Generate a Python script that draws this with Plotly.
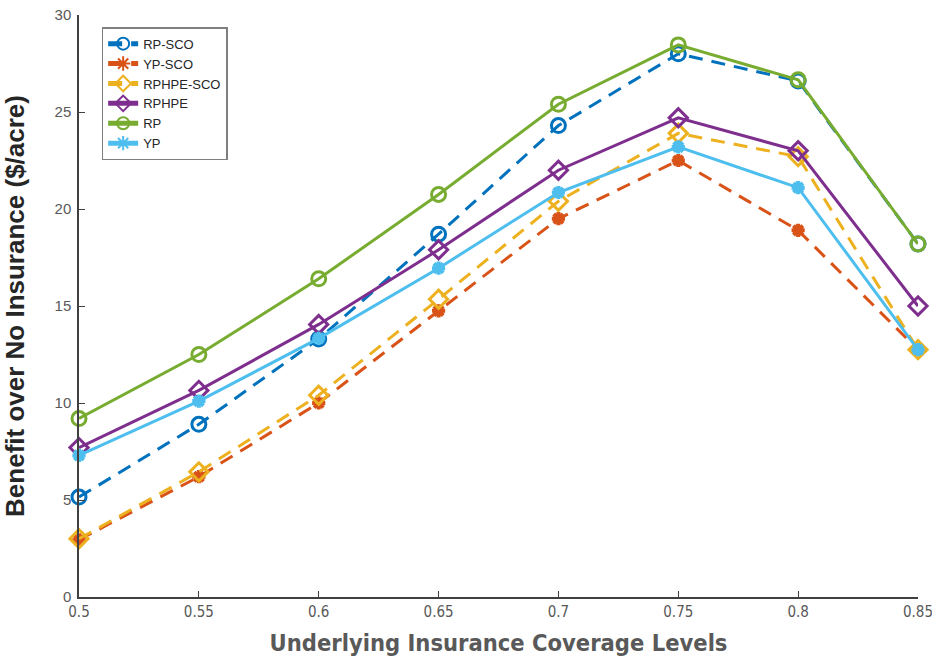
import plotly.graph_objects as go

x_levels = [0.5, 0.55, 0.6, 0.65, 0.7, 0.75, 0.8, 0.85]

rp_sco = [5.15, 8.9, 13.3, 18.7, 24.3, 28.0, 26.6, 18.2]
yp_sco = [2.95, 6.2, 10.0, 14.75, 19.5, 22.5, 18.9, 12.75]
rphpe_sco = [3.0, 6.45, 10.4, 15.35, 20.4, 23.9, 22.7, 12.75]
rphpe = [7.7, 10.65, 14.05, 17.9, 22.0, 24.7, 23.0, 15.0]
rp = [9.2, 12.5, 16.4, 20.75, 25.4, 28.46, 26.66, 18.2]
yp = [7.3, 10.1, 13.33, 16.95, 20.85, 23.2, 21.1, 12.75]

series = [
    ("RP-SCO", rp_sco, "#0072BD", "dash", "circle-open"),
    ("YP-SCO", yp_sco, "#D95319", "dash", "asterisk-open"),
    ("RPHPE-SCO", rphpe_sco, "#EDB120", "dash", "diamond-open"),
    ("RPHPE", rphpe, "#7E2F8E", "solid", "diamond-open"),
    ("RP", rp, "#77AC30", "solid", "circle-open"),
    ("YP", yp, "#4DBEEE", "solid", "asterisk-open"),
]

fig = go.Figure()
for name, vals, color, dash, sym in series:
    is_ast = "asterisk" in sym
    fig.add_trace(go.Scatter(
        x=x_levels, y=vals, name=name, mode="lines+markers",
        line=dict(color=color, width=3, dash="14px,9px" if dash == "dash" else "solid"),
        marker=dict(symbol=sym, size=11 if is_ast else 14,
                    color=color, line=dict(color=color, width=4 if is_ast else 3)),
        cliponaxis=False,
    ))

axis_color = "#404040"
narrow = "DejaVu Sans Condensed, Liberation Sans Narrow, Arial Narrow, Liberation Sans, sans-serif"
fig.update_layout(
    width=932, height=657,
    margin=dict(l=79, r=14, t=15, b=60),
    paper_bgcolor="white", plot_bgcolor="white",
    showlegend=True,
    legend=dict(
        x=0.027, y=0.979, xanchor="left", yanchor="top",
        bgcolor="white", bordercolor="#7f7f7f", borderwidth=1.5,
        font=dict(family="Liberation Sans, Arial, sans-serif", size=13, color="#262626"),
        tracegroupgap=0, itemsizing="constant", itemwidth=30,
    ),
    xaxis=dict(
        range=[0.5, 0.85], tickvals=x_levels,
        ticktext=["0.5", "0.55", "0.6", "0.65", "0.7", "0.75", "0.8", "0.85"],
        ticks="inside", ticklen=6, tickcolor=axis_color, tickwidth=1.2,
        showline=True, linecolor=axis_color, linewidth=1.5,
        showgrid=False, zeroline=False, automargin=False,
        ticklabeloverflow="allow",
        tickfont=dict(family=narrow, size=15, color="#595959"),
        title=dict(text="<b>Underlying Insurance Coverage Levels</b>",
                   font=dict(family=narrow, size=23.5, color="#595959"),
                   standoff=15),
    ),
    yaxis=dict(
        range=[0, 30], tickvals=[0, 5, 10, 15, 20, 25, 30],
        ticks="inside", ticklen=6, tickcolor=axis_color, tickwidth=1.2,
        showline=True, linecolor=axis_color, linewidth=1.5,
        showgrid=False, zeroline=False, automargin=False,
        ticklabeloverflow="allow", ticklabelstandoff=3,
        tickfont=dict(family="Liberation Sans, Arial, sans-serif", size=15, color="#595959"),
        title=dict(text="<b>Benefit over No Insurance ($/acre)</b>",
                   font=dict(family="Liberation Sans, Arial, sans-serif", size=26, color="#262626"),
                   standoff=22),
    ),
)

fig.write_html("out.html", config={"displayModeBar": False},
               post_script="document.body.style.margin='0';")
